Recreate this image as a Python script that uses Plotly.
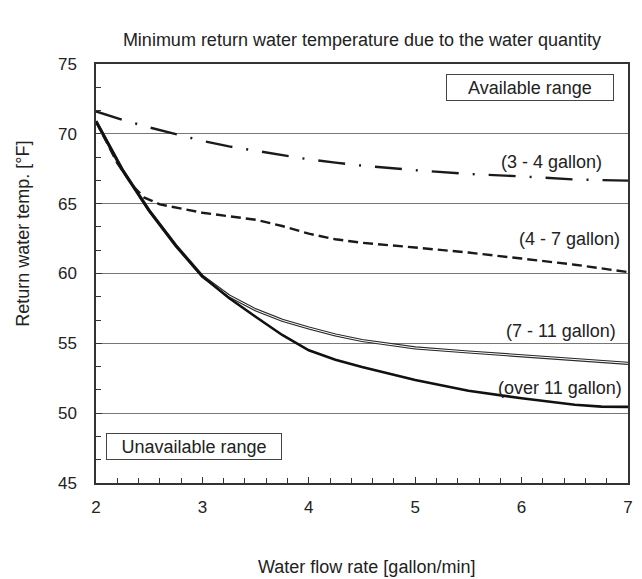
import plotly.graph_objects as go

# Flow rate [gallon/min] and minimum return water temperature [°F] per tank volume
x_34 = [2.0, 2.25, 2.5, 2.75, 3.0, 3.25, 3.5, 3.75, 4.0, 4.25, 4.5, 5.0, 5.5, 6.0, 6.5, 7.0]
t_34 = [71.6, 71.0, 70.46, 69.98, 69.5, 69.1, 68.78, 68.47, 68.17, 67.94, 67.72, 67.4, 67.13, 66.95, 66.73, 66.65]

x_47 = [2.0, 2.2, 2.35, 2.45, 2.6, 2.8, 3.0, 3.25, 3.5, 3.75, 4.0, 4.25, 4.5, 5.0, 5.5, 6.0, 6.5, 7.0]
t_47 = [70.9, 67.9, 66.25, 65.45, 64.95, 64.65, 64.35, 64.1, 63.85, 63.4, 62.85, 62.45, 62.2, 61.86, 61.5, 61.07, 60.63, 60.1]

x_711 = [2.0, 2.25, 2.5, 2.75, 3.0, 3.25, 3.5, 3.75, 4.0, 4.25, 4.5, 5.0, 5.5, 6.0, 6.5, 7.0]
t_711 = [70.9, 67.4, 64.5, 62.0, 59.8, 58.4, 57.4, 56.65, 56.1, 55.6, 55.2, 54.67, 54.38, 54.12, 53.85, 53.57]

x_11 = [2.0, 2.25, 2.5, 2.75, 3.0, 3.25, 3.5, 3.75, 4.0, 4.25, 4.5, 5.0, 5.5, 6.0, 6.5, 6.75, 7.0]
t_11 = [70.9, 67.4, 64.5, 62.0, 59.8, 58.25, 56.9, 55.6, 54.5, 53.83, 53.3, 52.38, 51.6, 51.07, 50.6, 50.47, 50.45]

x_ticks = [2, 3, 4, 5, 6, 7]
y_ticks = [45, 50, 55, 60, 65, 70, 75]

FONT = "Liberation Sans, Arial, sans-serif"
INK = "#222222"

fig = go.Figure()

# 3 - 4 gallon: long dash / dot
fig.add_trace(go.Scatter(x=x_34, y=t_34, mode="lines",
                         line=dict(color="#1a1a1a", width=2.4, dash="27px,14px,2px,14px"),
                         showlegend=False, hoverinfo="skip"))
# 4 - 7 gallon: dashed
fig.add_trace(go.Scatter(x=x_47, y=t_47, mode="lines",
                         line=dict(color="#1a1a1a", width=2.4, dash="10px,5px"),
                         showlegend=False, hoverinfo="skip"))
# 7 - 11 gallon: double line (dark stroke with a light core)
fig.add_trace(go.Scatter(x=x_711, y=t_711, mode="lines",
                         line=dict(color="#2a2a2a", width=3.2),
                         showlegend=False, hoverinfo="skip"))
fig.add_trace(go.Scatter(x=x_711, y=t_711, mode="lines",
                         line=dict(color="#ffffff", width=1.0),
                         showlegend=False, hoverinfo="skip"))
# over 11 gallon: heavy solid
fig.add_trace(go.Scatter(x=x_11, y=t_11, mode="lines",
                         line=dict(color="#111111", width=2.6),
                         showlegend=False, hoverinfo="skip"))

curve_labels = [
    ("(3 - 4 gallon)", 6.77, 68.0),
    ("(4 - 7 gallon)", 6.944, 62.47),
    ("(7 - 11 gallon)", 6.907, 55.9),
    ("(over 11 gallon)", 6.963, 51.8),
]
for text, lx, ly in curve_labels:
    fig.add_annotation(x=lx, y=ly, xref="x", yref="y", text=text, showarrow=False,
                       xanchor="right", yanchor="middle",
                       font=dict(family=FONT, size=18, color=INK))

# boxed range notes
fig.add_annotation(x=0.8156, y=0.944, xref="paper", yref="paper", text="Available range",
                   showarrow=False, xanchor="center", yanchor="middle",
                   width=164, height=23, borderpad=1, bordercolor="#444444", borderwidth=1,
                   bgcolor="white", font=dict(family=FONT, size=18, color=INK))
fig.add_annotation(x=0.1844, y=0.0871, xref="paper", yref="paper", text="Unavailable range",
                   showarrow=False, xanchor="center", yanchor="middle",
                   width=172, height=23, borderpad=1, bordercolor="#444444", borderwidth=1,
                   bgcolor="white", font=dict(family=FONT, size=18, color=INK))

# axis titles
fig.add_annotation(x=0.5084, y=-0.2005, xref="paper", yref="paper",
                   text="Water flow rate [gallon/min]", showarrow=False,
                   xanchor="center", yanchor="middle",
                   font=dict(family=FONT, size=18, color=INK))
fig.add_annotation(x=-0.1378, y=0.594, xref="paper", yref="paper",
                   text="Return water temp. [°F]", showarrow=False, textangle=-90,
                   xanchor="center", yanchor="middle",
                   font=dict(family=FONT, size=18, color=INK))

fig.update_layout(
    width=642, height=579,
    margin=dict(l=96, r=9, t=64, b=96),
    paper_bgcolor="white", plot_bgcolor="white",
    font=dict(family=FONT, size=17, color=INK),
    title=dict(text="Minimum return water temperature due to the water quantity",
               x=0.5, xref="paper", y=1 - 40 / 579, yref="container",
               xanchor="center", yanchor="middle",
               font=dict(family=FONT, size=18, color=INK)),
)

fig.update_xaxes(
    range=[2, 7], tickvals=x_ticks, ticktext=[str(v) for v in x_ticks],
    ticks="inside", ticklen=6, tickwidth=1, tickcolor="#333333",
    minor=dict(dtick=0.2, tick0=2, ticks="inside", ticklen=5, tickwidth=1,
               tickcolor="#333333", showgrid=False),
    showgrid=False, zeroline=False,
    showline=True, mirror=True, linecolor="#333333", linewidth=1.5,
    tickfont=dict(family=FONT, size=17, color=INK),
    ticklabelstandoff=8,
)
fig.update_yaxes(
    range=[45, 75], tickvals=y_ticks, ticktext=[str(v) for v in y_ticks],
    ticks="inside", ticklen=6, tickwidth=1, tickcolor="#333333",
    minor=dict(dtick=5 / 3, tick0=45, ticks="inside", ticklen=5, tickwidth=1,
               tickcolor="#333333", showgrid=False),
    showgrid=True, gridcolor="#777777", gridwidth=1.2, zeroline=False,
    showline=True, mirror=True, linecolor="#333333", linewidth=1.5,
    tickfont=dict(family=FONT, size=17, color=INK),
    ticklabelstandoff=14,
)

fig.write_html("out.html")
